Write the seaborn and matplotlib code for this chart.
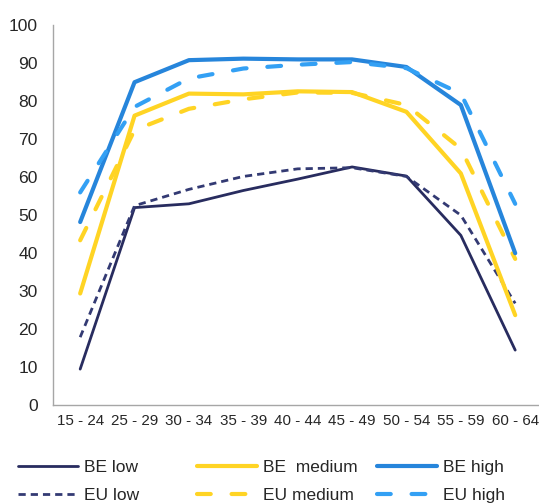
import numpy as np
import pandas as pd
import matplotlib
matplotlib.use('Agg')
import matplotlib.pyplot as plt
import seaborn as sns

# age groups on the x axis
ages = ['15 - 24', '25 - 29', '30 - 34', '35 - 39', '40 - 44',
        '45 - 49', '50 - 54', '55 - 59', '60 - 64']

# employment rate (%) by education level
be_low = [9.5, 52, 53, 56.5, 59.5, 62.7, 60.3, 44.7, 14.5]
be_medium = [29.4, 76.2, 82, 81.8, 82.6, 82.4, 77.2, 61, 23.7]
be_high = [48.2, 85, 90.8, 91.2, 91, 91, 89, 79, 40]
eu_low = [17.9, 52.5, 56.8, 60.2, 62.2, 62.5, 60.2, 50, 26.8]
eu_medium = [43.4, 72.4, 78, 80.5, 82.3, 82.2, 79, 67.5, 38.5]
eu_high = [56, 78.5, 86, 88.6, 89.6, 90.3, 88.7, 82, 53]

series = {'BE low': be_low, 'EU low': eu_low,
          'BE  medium': be_medium, 'EU medium': eu_medium,
          'BE high': be_high, 'EU high': eu_high}

df = pd.concat([pd.DataFrame({'age': ages, 'rate': v, 'series': k})
                for k, v in series.items()], ignore_index=True)

palette = {'BE low': '#282C5F', 'EU low': '#333A73',
           'BE  medium': '#FFD424', 'EU medium': '#FFD424',
           'BE high': '#2685DB', 'EU high': '#33A0F4'}
sizes = {'BE low': 2.0, 'EU low': 2.0,
         'BE  medium': 3.0, 'EU medium': 3.0,
         'BE high': 3.0, 'EU high': 3.0}
dashes = {'BE low': '', 'EU low': (2.6, 1.8),
          'BE  medium': '', 'EU medium': (3.3, 5),
          'BE high': '', 'EU high': (3.3, 5)}

sns.set_style('white')
plt.rcParams['font.family'] = ['Liberation Sans', 'DejaVu Sans']

fig = plt.figure(figsize=(5.39, 5.04), dpi=100)
ax = fig.add_axes([0.0983, 0.196, 0.908, 0.754])

sns.lineplot(data=df, x='age', y='rate', hue='series', style='series',
             size='series', palette=palette, dashes=dashes, sizes=sizes,
             sort=False, legend=False, ax=ax)

for line, name in zip(ax.lines, series.keys()):
    if name == 'EU low':
        line.set_dash_capstyle('butt')
    else:
        line.set_dash_capstyle('round')
    line.set_solid_capstyle('round')

ax.set_xlim(-0.5, 8.5)
ax.set_ylim(0, 100)
ax.set_yticks(range(0, 101, 10))
ax.set_xlabel('')
ax.set_ylabel('')
ax.tick_params(axis='y', length=0, pad=11, labelsize=12.6)
ax.tick_params(axis='x', length=0, pad=6, labelsize=10.9)
for s in ['top', 'right']:
    ax.spines[s].set_visible(False)
for s in ['left', 'bottom']:
    ax.spines[s].set_color('#A6A6A6')
    ax.spines[s].set_linewidth(1.0)

# legend: three equal-width columns
names = list(series.keys())
col_x = [18, 197, 377]
for i, x0 in enumerate(col_x):
    hs = [ax.lines[2 * i], ax.lines[2 * i + 1]]
    fig.legend(hs, names[2 * i:2 * i + 2], loc='upper left',
               bbox_to_anchor=(x0 / 539, 1 - 460 / 504),
               frameon=False, fontsize=12.5, handlelength=3.45,
               handletextpad=0.35, labelspacing=0.74,
               borderpad=0, borderaxespad=0)

fig.savefig('out.png', dpi=100)
